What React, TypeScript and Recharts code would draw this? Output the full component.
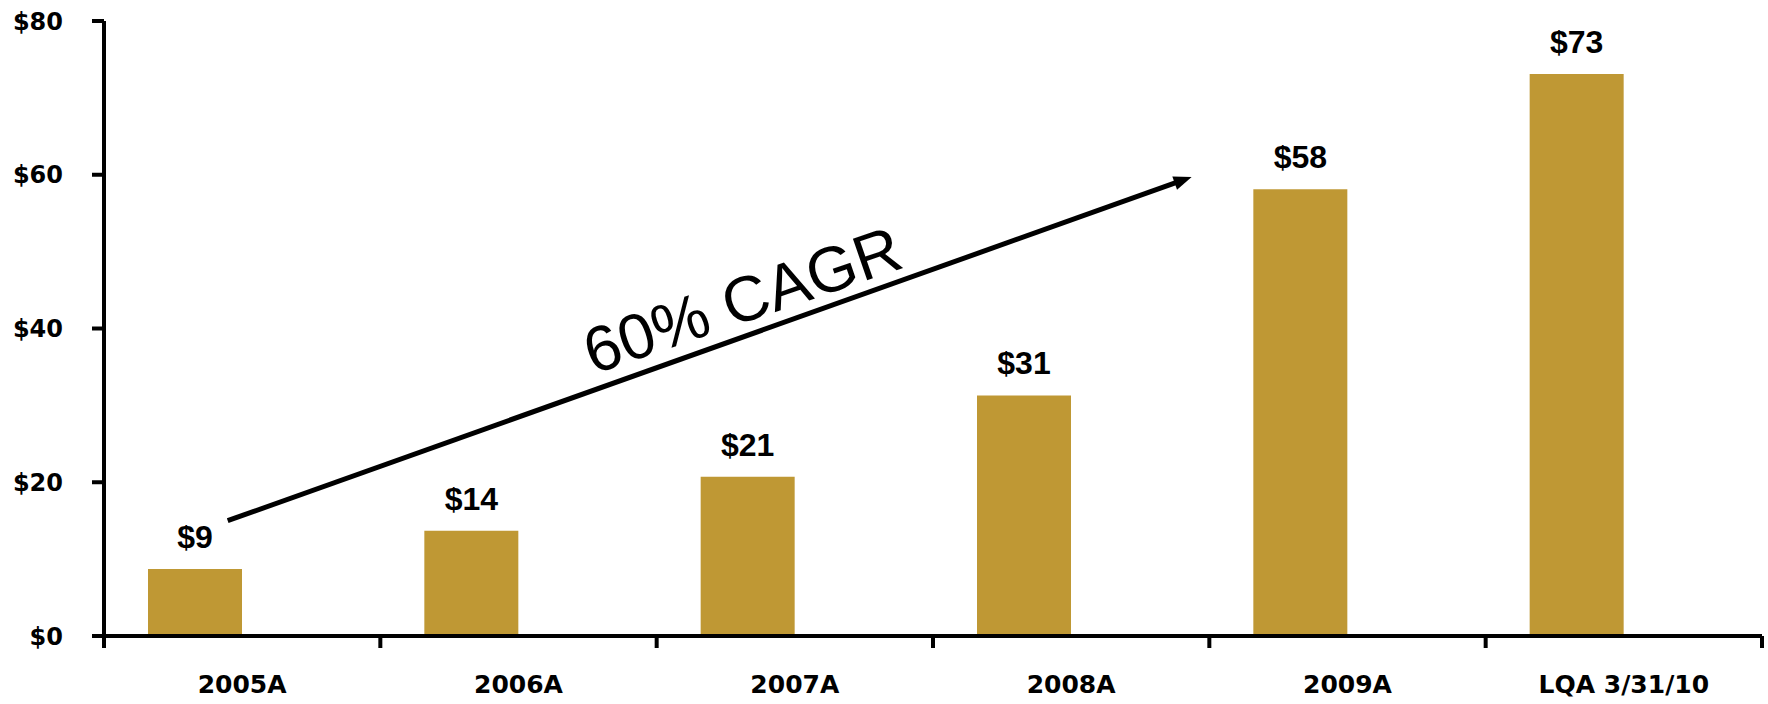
import { BarChart, Bar, XAxis, YAxis, LabelList, ReferenceLine, ReferenceDot } from 'recharts';

const categories = ['2005A', '2006A', '2007A', '2008A', '2009A', 'LQA 3/31/10'];
const revenue = [8.7, 13.7, 20.7, 31.3, 58.1, 73.1];
// empty second series: the original chart is a clustered column with one unused slot
const placeholder = [null, null, null, null, null, null];
const yTicks = [0, 20, 40, 60, 80];

// arrow drawn in data space on a hidden 0..5 axis spanning the plot width
const cagrArrow = [
  { x: 0.373, y: 15 },
  { x: 3.28, y: 59.7 },
];
const cagrText = { x: 1.925, y: 43.7, text: '60% CAGR' };

const GOLD = '#BF9834';

const data = categories.map((name, i) => ({
  name,
  revenue: revenue[i],
  placeholder: placeholder[i],
}));

function CategoryTick(props: any) {
  const { x, y, payload, index } = props;
  const half = payload?.offset ?? 0;
  const isLast = index === categories.length - 1;
  return (
    <g>
      <line x1={x - half} x2={x - half} y1={y} y2={y + 12} stroke="#000" strokeWidth={4} />
      {isLast && <line x1={x + half} x2={x + half} y1={y} y2={y + 12} stroke="#000" strokeWidth={4} />}
      <text
        x={x}
        y={y + 57}
        textAnchor="middle"
        fill="#000"
        style={{ fontFamily: 'DejaVu Sans', fontWeight: 700, fontSize: 25 }}
      >
        {payload.value}
      </text>
    </g>
  );
}

function Arrow(props: any) {
  const { x1, y1, x2, y2 } = props;
  const dx = x2 - x1;
  const dy = y2 - y1;
  const len = Math.sqrt(dx * dx + dy * dy);
  const ux = dx / len;
  const uy = dy / len;
  const headLen = 18;
  const headHalf = 7;
  const bx = x2 - ux * headLen;
  const by = y2 - uy * headLen;
  const pts = `${x2},${y2} ${bx - uy * headHalf},${by + ux * headHalf} ${bx + uy * headHalf},${by - ux * headHalf}`;
  return (
    <g>
      <line x1={x1} y1={y1} x2={bx + ux * 2} y2={by + uy * 2} stroke="#000" strokeWidth={5} />
      <polygon points={pts} fill="#000" />
    </g>
  );
}

function CagrLabel(props: any) {
  const vb = props.viewBox || {};
  const cx = vb.x + (vb.width || 0) / 2;
  const cy = vb.y + (vb.height || 0) / 2;
  return (
    <text
      x={cx}
      y={cy}
      textAnchor="middle"
      dominantBaseline="central"
      transform={`rotate(-19 ${cx} ${cy})`}
      fill="#000"
      style={{ fontFamily: 'Liberation Sans, Arial, sans-serif', fontSize: 64 }}
    >
      {cagrText.text}
    </text>
  );
}

export default function App() {
  return (
    <div style={{ position: 'absolute', left: 0, top: 0, width: 1768, height: 704, background: '#fff' }}>
      <BarChart
        width={1768}
        height={704}
        data={data}
        margin={{ top: 21, right: 6, bottom: 0, left: 0 }}
        barGap={0}
      >
        <XAxis
          dataKey="name"
          height={68}
          interval={0}
          tickLine={false}
          tickSize={0}
          tickMargin={0}
          axisLine={{ stroke: '#000', strokeWidth: 4 }}
          tick={<CategoryTick />}
        />
        <XAxis xAxisId="ann" type="number" domain={[0, 5]} hide />
        <YAxis
          width={104}
          domain={[0, 80]}
          ticks={yTicks}
          interval={0}
          tickSize={12}
          tickMargin={29}
          tickFormatter={(v: number) => `$${v}`}
          axisLine={{ stroke: '#000', strokeWidth: 4 }}
          tickLine={{ stroke: '#000', strokeWidth: 4 }}
          tick={{ fill: '#000', fontFamily: 'DejaVu Sans', fontWeight: 700, fontSize: 24 }}
        />
        <Bar dataKey="revenue" fill={GOLD} barSize={94} isAnimationActive={false}>
          <LabelList
            dataKey="revenue"
            position="top"
            offset={21}
            formatter={(v: any) => `$${Math.round(Number(v))}`}
            style={{ fill: '#000', fontFamily: 'Liberation Sans, Arial, sans-serif', fontWeight: 700, fontSize: 32 }}
          />
        </Bar>
        <Bar dataKey="placeholder" fill={GOLD} barSize={94} isAnimationActive={false} />
        <ReferenceLine
          xAxisId="ann"
          segment={cagrArrow}
          ifOverflow="visible"
          shape={(p: any) => <Arrow {...p} />}
        />
        <ReferenceDot
          xAxisId="ann"
          x={cagrText.x}
          y={cagrText.y}
          r={0}
          fill="none"
          stroke="none"
          ifOverflow="visible"
          label={(p: any) => <CagrLabel {...p} />}
        />
      </BarChart>
    </div>
  );
}
